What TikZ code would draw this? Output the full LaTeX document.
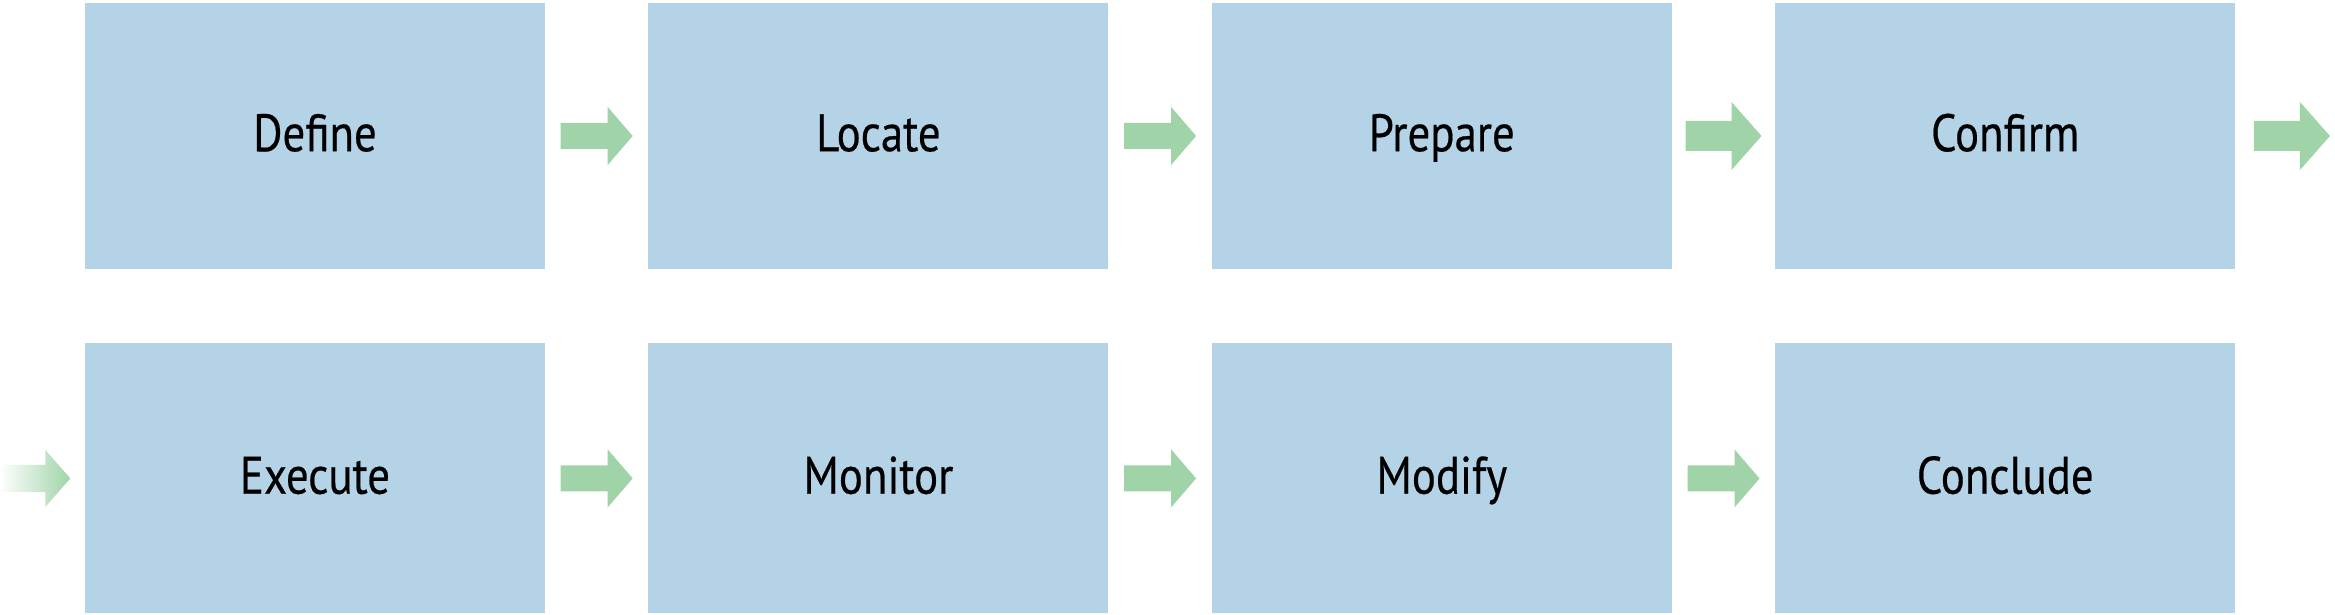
\documentclass[tikz,border=0pt]{standalone}
\usepackage{fontspec}
\setmainfont[FakeStretch=0.85,FakeBold=0.4]{PT Sans}
\usepackage{tikz}
\usetikzlibrary{calc,positioning}

\definecolor{boxblue}{RGB}{180,211,231}
\definecolor{arrowgreen}{RGB}{160,212,168}

\tikzset{
  flowbox/.style={rectangle, fill=boxblue, minimum width=4.6cm, minimum height=2.66cm,
    inner sep=0pt, text height=0.365cm, text depth=0.06cm, font=\fontsize{15}{18}\selectfont},
  lowrow/.style={minimum height=2.7cm},
  % #1 half length, #2 head length, #3 half shaft, #4 half head
  pics/flowarrow/.style args={#1/#2/#3/#4}{code={
    \path[pic actions] (-#1,-#3) -- (#1-#2,-#3) -- (#1-#2,-#4) -- (#1,0)
      -- (#1-#2,#4) -- (#1-#2,#3) -- (-#1,#3) -- cycle;
  }},
}

\begin{document}
\begin{tikzpicture}[node distance=0.73cm and 1.02cm]
    \useasboundingbox (0,0) rectangle (23.35,6.15);

    \node[flowbox] (define) at (3.15,4.79) {Define};
    \node[flowbox, right=of define] (locate) {Locate};
    \node[flowbox, right=of locate] (prepare) {Prepare};
    \node[flowbox, right=of prepare] (confirm) {Confirm};

    \node[flowbox, lowrow, below=of define] (execute) {Execute};
    \node[flowbox, lowrow, right=of execute] (monitor) {Monitor};
    \node[flowbox, lowrow, right=of monitor] (modify) {Modify};
    \node[flowbox, lowrow, right=of modify] (conclude) {Conclude};

    \coordinate (out) at ($(confirm.east)+(0.56,0)$);
    \coordinate (in) at ($(execute.west)+(-0.495,0)$);

    \foreach \a/\b in {define/locate, locate/prepare, execute/monitor, monitor/modify, modify/conclude}
    {
    \pic[fill=arrowgreen] at ($(\a.east)!0.5!(\b.west)$) {flowarrow=0.36/0.25/0.13/0.29};
    }
    \pic[fill=arrowgreen] at ($(prepare.east)!0.5!(confirm.west)$) {flowarrow=0.38/0.30/0.15/0.34};
    \pic[fill=arrowgreen] at (out) {flowarrow=0.38/0.30/0.15/0.34};
    \pic[left color=white, right color=arrowgreen] at (in) {flowarrow=0.355/0.25/0.135/0.285};
\end{tikzpicture}
\end{document}
